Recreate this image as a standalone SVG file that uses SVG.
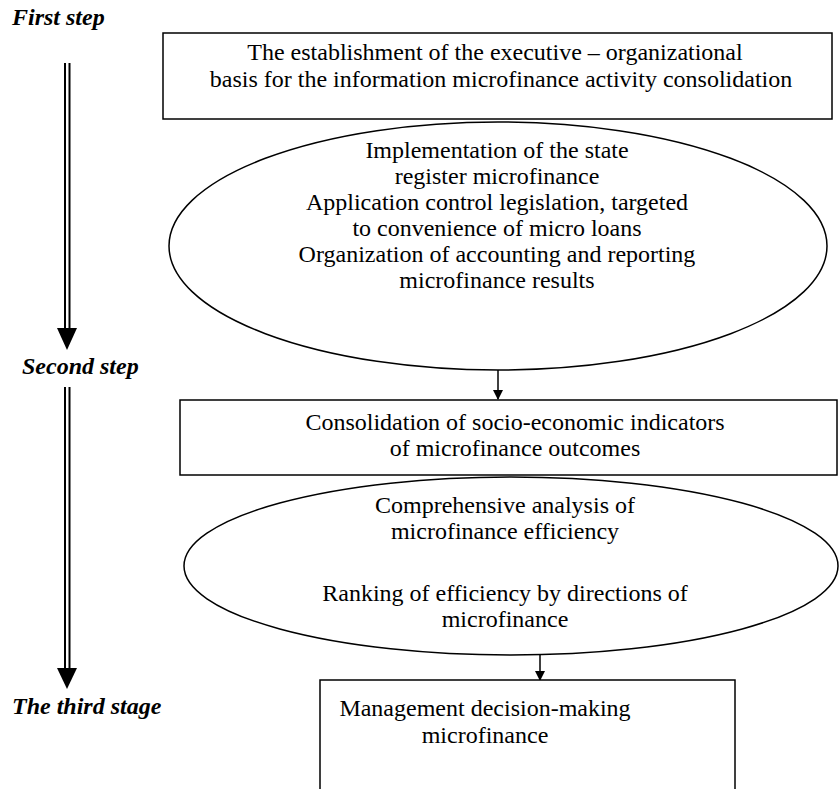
<svg xmlns="http://www.w3.org/2000/svg" width="840" height="789" viewBox="0 0 840 789">
<style>
.t{font-family:"Liberation Serif","Times New Roman",serif;font-size:24px;fill:#000;text-anchor:middle}
.lbl{font-family:"Liberation Serif","Times New Roman",serif;font-size:24px;font-weight:bold;font-style:italic;fill:#000}
.box{fill:#fff;stroke:#000;stroke-width:1.5}
.conn{stroke:#000;stroke-width:1.5;fill:none}
.dbl{stroke:#000;stroke-width:2;fill:none}
</style>
<defs>
<marker id="ah" markerWidth="10" markerHeight="10" refX="9" refY="5" orient="auto" markerUnits="userSpaceOnUse">
<path d="M0,0 L10,5 L0,10 z" fill="#000"/>
</marker>
</defs>
<rect width="840" height="789" fill="#fff"/>
<g id="stages">
<text class="lbl" x="12" y="25">First step</text>
<line class="dbl" x1="65" y1="63" x2="65" y2="330"/>
<line class="dbl" x1="69.5" y1="63" x2="69.5" y2="330"/>
<polygon points="57,328 77,328 67,350" fill="#000"/>
<text class="lbl" x="22" y="374">Second step</text>
<line class="dbl" x1="65" y1="387" x2="65" y2="670"/>
<line class="dbl" x1="69.5" y1="387" x2="69.5" y2="670"/>
<polygon points="57,668 77,668 67,689" fill="#000"/>
<text class="lbl" x="12" y="714">The third stage</text>
</g>
<g id="connectors">
<line class="conn" x1="498" y1="370" x2="498" y2="399" marker-end="url(#ah)"/>
<line class="conn" x1="540" y1="655" x2="540" y2="680" marker-end="url(#ah)"/>
</g>
<g id="node1">
<rect class="box" x="163" y="33" width="669" height="86"/>
<text class="t" x="495" y="60">The establishment of the executive – organizational</text>
<text class="t" x="501" y="87">basis for the information microfinance activity consolidation</text>
</g>
<g id="node2">
<ellipse class="box" cx="498" cy="246" rx="329" ry="124"/>
<text class="t" x="497" y="158">Implementation of the state</text>
<text class="t" x="497" y="184">register microfinance</text>
<text class="t" x="497" y="210">Application control legislation, targeted</text>
<text class="t" x="497" y="236">to convenience of micro loans</text>
<text class="t" x="497" y="262">Organization of accounting and reporting</text>
<text class="t" x="497" y="288">microfinance results</text>
</g>
<g id="node3">
<rect class="box" x="180" y="400" width="657" height="75"/>
<text class="t" x="515" y="430">Consolidation of socio-economic indicators</text>
<text class="t" x="515" y="456">of microfinance outcomes</text>
</g>
<g id="node4">
<ellipse class="box" cx="511" cy="566" rx="327" ry="89"/>
<text class="t" x="505" y="513">Comprehensive analysis of</text>
<text class="t" x="505" y="539">microfinance efficiency</text>
<text class="t" x="505" y="601">Ranking of efficiency by directions of</text>
<text class="t" x="505" y="627">microfinance</text>
</g>
<g id="node5">
<rect class="box" x="320" y="680" width="415" height="130"/>
<text class="t" x="485" y="716">Management decision-making</text>
<text class="t" x="485" y="743">microfinance</text>
</g>
</svg>
